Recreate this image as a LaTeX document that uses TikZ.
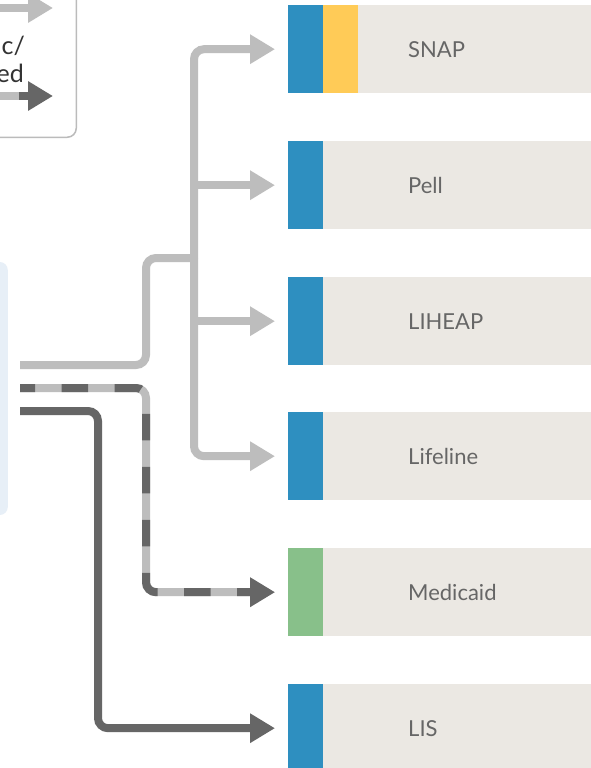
\documentclass[tikz,border=0pt]{standalone}
\usepackage{fontspec}
\setmainfont{Lato}
\usetikzlibrary{arrows.meta}

\definecolor{lineLight}{HTML}{BDBDBD}
\definecolor{lineDark}{HTML}{666666}
\definecolor{boxFill}{HTML}{EBE8E3}
\definecolor{stripBlue}{HTML}{2E8FC0}
\definecolor{stripYellow}{HTML}{FFCB57}
\definecolor{stripGreen}{HTML}{88C08A}
\definecolor{srcFill}{HTML}{E7EFF7}
\definecolor{keyBorder}{HTML}{BBBBBB}
\definecolor{labelText}{HTML}{666666}
\definecolor{keyText}{HTML}{333333}

\begin{document}
\begin{tikzpicture}[x=1pt,y=-1pt,
  flow/.style={line width=8pt, rounded corners=10pt},
  tipped/.style={flow, -{Triangle[length=25pt,width=28pt]}, shorten >=13pt},
  progbox/.style={fill=boxFill, minimum width=303pt, minimum height=88pt,
    inner sep=0pt, anchor=north west},
  proglabel/.style={anchor=base west, inner sep=0pt, text=labelText,
    font=\fontsize{22}{26}\selectfont},
  keylabel/.style={anchor=base east, inner sep=0pt, text=keyText,
    font=\fontsize{25}{30}\selectfont},
  altdash/.style={dash pattern=on 26.5pt off 26.5pt, dash phase=11.5pt}]
\useasboundingbox (0,0) rectangle (591,768);
\begin{scope}
\clip (0,0) rectangle (591,768);
\fill[white] (0,0) rectangle (591,768);

% key panel
\node[draw=keyBorder, line width=1.5pt, rounded corners=9pt, minimum width=120pt,
  minimum height=180pt, inner sep=0pt, anchor=south east] (key) at (77,138) {};
\coordinate (keyA0) at (-5,8);
\coordinate (keyA1) at (53,8);
\draw[line width=8pt, lineLight, -{Triangle[length=25pt,width=28pt]}] (keyA0) -- (keyA1);
\node[keylabel] (keyT1) at (25,55) {c/};
\node[keylabel] (keyT2) at (24,82) {ed};
\coordinate (keyB0) at (-5,96);
\coordinate (keyBm) at (19,96);
\coordinate (keyB1) at (53,96);
\draw[line width=8pt, lineLight] (keyB0) -- (keyBm);
\draw[line width=8pt, lineDark, -{Triangle[length=25pt,width=28pt]}] (keyBm) -- (keyB1);

% source panel
\node[fill=srcFill, rounded corners=8pt, minimum width=40pt, minimum height=253pt,
  inner sep=0pt, anchor=east] (src) at (8,388.5) {};

% program boxes
\node[progbox] (snap) at (288,5) {};
\node[progbox] (pell) at (288,141) {};
\node[progbox] (liheap) at (288,277) {};
\node[progbox] (lifeline) at (288,412) {};
\node[progbox] (medicaid) at (288,548) {};
\node[progbox] (lis) at (288,684) {};

\fill[stripBlue] (snap.north west) rectangle ([xshift=35pt]snap.south west);
\fill[stripYellow] ([xshift=35pt]snap.north west) rectangle ([xshift=70pt]snap.south west);
\fill[stripBlue] (pell.north west) rectangle ([xshift=35pt]pell.south west);
\fill[stripBlue] (liheap.north west) rectangle ([xshift=35pt]liheap.south west);
\fill[stripBlue] (lifeline.north west) rectangle ([xshift=35pt]lifeline.south west);
\fill[stripGreen] (medicaid.north west) rectangle ([xshift=35pt]medicaid.south west);
\fill[stripBlue] (lis.north west) rectangle ([xshift=35pt]lis.south west);

\node[proglabel] (snapT) at ([xshift=120pt,yshift=-8pt]snap.west) {SNAP};
\node[proglabel] (pellT) at ([xshift=120pt,yshift=-8pt]pell.west) {Pell};
\node[proglabel] (liheapT) at ([xshift=120pt,yshift=-8pt]liheap.west) {LIHEAP};
\node[proglabel] (lifelineT) at ([xshift=120pt,yshift=-8pt]lifeline.west) {Lifeline};
\node[proglabel] (medicaidT) at ([xshift=120pt,yshift=-8pt]medicaid.west) {Medicaid};
\node[proglabel] (lisT) at ([xshift=120pt,yshift=-8pt]lis.west) {LIS};

% connectors
\coordinate (outA) at (20,365);
\coordinate (outB) at (20,388);
\coordinate (outC) at (20,411);
\coordinate (hub) at (194,258);

\draw[flow, lineLight] (outA) -- (146,365) -- (146,258) -- (hub);
\draw[tipped, lineLight] (hub) |- (snap.west);
\draw[tipped, lineLight] (hub) |- (lifeline.west);
\draw[tipped, lineLight] (hub |- pell.west) -- (pell.west);
\draw[tipped, lineLight] (hub |- liheap.west) -- (liheap.west);

\draw[tipped, lineLight] (outB) -- (146,388) |- (medicaid.west);
\draw[tipped, lineDark, altdash] (outB) -- (146,388) |- (medicaid.west);

\draw[tipped, lineDark] (outC) -- (98,411) |- (lis.west);
\end{scope}
\end{tikzpicture}
\end{document}
